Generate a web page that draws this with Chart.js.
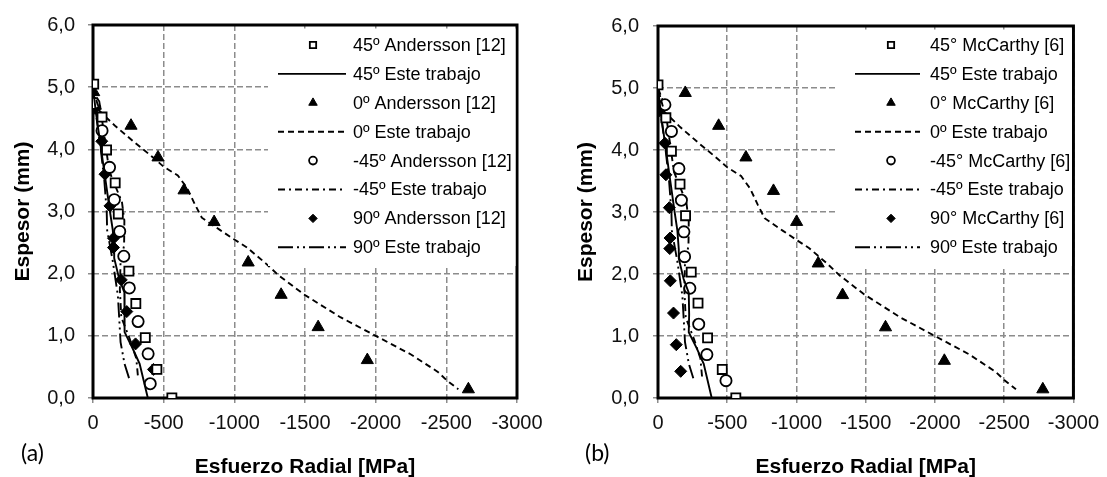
<!DOCTYPE html>
<html><head><meta charset="utf-8">
<script src="https://cdn.jsdelivr.net/npm/chart.js@4.4.0/dist/chart.umd.min.js"></script>
<style>
html,body{margin:0;padding:0;background:#fff;}
#wrap{position:relative;width:1107px;height:477px;overflow:hidden;background:#fff;}
.pane{position:absolute;top:0;height:477px;}
#pa{left:0;width:553px;} #pb{left:553px;width:554px;}
.lab{position:absolute;font-family:Lato,'Open Sans',sans-serif;font-size:23px;line-height:23px;color:#000;}
</style></head><body>
<div id="wrap">
<div class="pane" id="pa"><canvas id="ca"></canvas></div>
<div class="pane" id="pb"><canvas id="cb"></canvas></div>
<div class="lab" style="left:21px;top:441px">(a)</div>
<div class="lab" style="left:585px;top:441px">(b)</div>
</div>
<script>
// ---- axis ticks ----
const xTicks = [0, -500, -1000, -1500, -2000, -2500, -3000];
const yTicks = [0, 1, 2, 3, 4, 5, 6];

// ---- panel (a): Andersson [12] ----
const sqA_x  = [-5, -64, -96, -157, -179, -254, -303, -370, -452, -558];
const sqA_y  = [5.05, 4.52, 3.99, 3.46, 2.96, 2.04, 1.52, 0.97, 0.46, 0.0];
const triA_x = [-5, -269, -460, -644, -857, -1098, -1331, -1593, -1941, -2656];
const triA_y = [4.92, 4.38, 3.87, 3.34, 2.83, 2.18, 1.66, 1.14, 0.61, 0.14];
const cirA_x = [-7, -64, -117, -151, -189, -218, -257, -319, -390, -405];
const cirA_y = [4.74, 4.30, 3.71, 3.19, 2.68, 2.28, 1.77, 1.23, 0.71, 0.23];
const diaA_x = [-14, -62, -85, -120, -145, -145, -200, -239, -301, -428];
const diaA_y = [4.66, 4.13, 3.60, 3.09, 2.57, 2.42, 1.90, 1.39, 0.87, 0.46];

// ---- panel (b): McCarthy [6] ----
const sqB_x  = [0, -57, -97, -159, -199, -240, -289, -358, -464, -562];
const sqB_y  = [5.05, 4.52, 3.98, 3.45, 2.94, 2.03, 1.53, 0.97, 0.46, 0.0];
const triB_x = [-197, -438, -635, -834, -1001, -1157, -1333, -1643, -2068, -2779];
const triB_y = [4.92, 4.39, 3.88, 3.34, 2.84, 2.17, 1.66, 1.14, 0.60, 0.14];
const cirB_x = [-50, -97, -151, -169, -187, -192, -230, -294, -353, -491];
const cirB_y = [4.73, 4.30, 3.70, 3.19, 2.68, 2.28, 1.77, 1.19, 0.70, 0.28];
const diaB_x = [-2, -50, -57, -82, -87, -85, -89, -112, -132, -164];
const diaB_y = [4.62, 4.11, 3.60, 3.07, 2.58, 2.41, 1.89, 1.37, 0.86, 0.43];

// ---- "Este trabajo" curves (same in both panels) ----
const et45_x  = [0, -20, -45, -70, -95, -120, -140, -150, -150, -185, -222, -225, -222, -280, -330, -388];
const et45_y  = [5.0, 4.6, 4.2, 3.8, 3.4, 3.0, 2.7, 2.4, 2.25, 1.92, 1.70, 1.35, 1.06, 0.80, 0.55, 0.0];
const et0_x   = [-5, -45, -160, -300, -430, -500, -600, -665, -720, -770, -900, -1000, -1090, -1220, -1310, -1490, -1750, -2000, -2250, -2440, -2500, -2585];
const et0_y   = [4.95, 4.62, 4.37, 4.10, 3.86, 3.72, 3.58, 3.38, 3.12, 2.90, 2.70, 2.55, 2.42, 2.17, 1.98, 1.67, 1.30, 1.00, 0.70, 0.42, 0.29, 0.14];
const etm45_x = [0, -50, -115, -205, -222, -220, -195, -190, -200, -260, -306, -320];
const etm45_y = [5.0, 4.7, 3.65, 3.15, 2.85, 2.45, 2.2, 1.75, 1.3, 0.95, 0.64, 0.30];
const et90_x  = [0, -25, -55, -80, -97, -100, -140, -176, -185, -195, -223, -255];
const et90_y  = [5.0, 4.5, 4.0, 3.5, 3.0, 2.7, 2.2, 1.65, 1.3, 0.9, 0.55, 0.32];

const labelsA = ['45º Andersson [12]', '45º Este trabajo', '0º Andersson [12]', '0º Este trabajo',
                 '-45º Andersson [12]', '-45º Este trabajo', '90º Andersson [12]', '90º Este trabajo'];
const labelsB = ['45° McCarthy [6]', '45º Este trabajo', '0° McCarthy [6]', '0º Este trabajo',
                 '-45° McCarthy [6]', '-45º Este trabajo', '90° McCarthy [6]', '90º Este trabajo'];

const FONT = "'Liberation Sans', Arial, sans-serif";
const pts = (xs, ys) => xs.map((x, i) => ({x: x, y: ys[i]}));

function makeDatasets(labels, sx, sy, tx, ty, cx, cy, dx, dy) {
  const mark = (label, d, style, r, fill, bw) => ({
    label, data: d, showLine: false, pointStyle: style, pointRadius: r, pointHoverRadius: r,
    backgroundColor: fill, borderColor: '#000', pointBorderWidth: bw, borderWidth: bw
  });
  const line = (label, d, dash) => ({
    label, data: d, showLine: true, pointRadius: 0, pointHoverRadius: 0,
    borderColor: '#000', backgroundColor: '#000', borderWidth: 1.9, borderDash: dash, tension: 0
  });
  return [
    mark(labels[0], pts(sx, sy), 'rect', 6.4, '#fff', 1.8),
    line(labels[1], pts(et45_x, et45_y), []),
    mark(labels[2], pts(tx, ty), 'triangle', 7, '#000', 1),
    line(labels[3], pts(et0_x, et0_y), [6, 4]),
    mark(labels[4], pts(cx, cy), 'circle', 5.6, '#fff', 1.8),
    line(labels[5], pts(etm45_x, etm45_y), [7, 4, 2, 4]),
    mark(labels[6], pts(dx, dy), 'rectRot', 6, '#000', 1),
    line(labels[7], pts(et90_x, et90_y), [15, 4, 2, 4, 2, 4])
  ];
}

const frame = {
  id: 'frame',
  beforeDatasetsDraw(chart) {
    const {ctx, chartArea: a} = chart;
    ctx.save();
    ctx.strokeStyle = '#000';
    ctx.lineWidth = 3;
    ctx.strokeRect(a.left, a.top, a.right - a.left, a.bottom - a.top);
    ctx.restore();
  }
};

const insideLegend = {
  id: 'insideLegend',
  afterDatasetsDraw(chart, args, o) {
    const {ctx, chartArea: a} = chart;
    ctx.save();
    ctx.fillStyle = '#fff';
    ctx.fillRect(o.boxLeft, a.top + 3.5, a.right - 1.5 - o.boxLeft, o.boxBottom - a.top - 3.5);
    chart.data.datasets.forEach((ds, i) => {
      const y = o.y0 + i * o.dy;
      if (ds.showLine) {
        ctx.strokeStyle = ds.borderColor;
        ctx.lineWidth = ds.borderWidth;
        ctx.setLineDash(ds.borderDash || []);
        ctx.beginPath(); ctx.moveTo(o.lx0, y); ctx.lineTo(o.lx1, y); ctx.stroke();
        ctx.setLineDash([]);
      } else {
        ctx.fillStyle = ds.backgroundColor;
        ctx.strokeStyle = ds.borderColor;
        ctx.lineWidth = ds.pointBorderWidth;
        Chart.helpers.drawPoint(ctx, {pointStyle: ds.pointStyle, radius: ds.pointRadius * 0.7,
          borderWidth: ds.pointBorderWidth, rotation: 0}, o.mx, y);
      }
      ctx.fillStyle = '#000';
      ctx.font = '18px ' + FONT;
      ctx.textAlign = 'left';
      ctx.textBaseline = 'middle';
      ctx.fillText(ds.label, o.tx, y + 1);
    });
    ctx.restore();
  }
};

function makeChart(id, datasets, p) {
  return new Chart(document.getElementById(id), {
    type: 'scatter',
    data: {datasets},
    plugins: [frame, insideLegend],
    options: {
      responsive: true, maintainAspectRatio: false, animation: false,
      layout: {padding: {top: 23, right: p.padRight, left: 0, bottom: 0}},
      events: [],
      plugins: {
        legend: {display: false}, tooltip: {enabled: false},
        insideLegend: p.legend
      },
      scales: {
        x: {
          type: 'linear', min: xTicks[xTicks.length - 1], max: xTicks[0], reverse: true,
          afterBuildTicks: s => { s.ticks = xTicks.map(v => ({value: v})); },
          afterFit: s => { s.height = 79; },
          ticks: {callback: v => String(v), color: '#111', padding: 8, maxRotation: 0, autoSkip: false,
                  font: {family: FONT, size: 20}},
          grid: {color: '#8c8c8c', lineWidth: 1.5, tickLength: 5, tickColor: '#8c8c8c', tickWidth: 1.5},
          border: {display: false, dash: [6, 3]},
          title: {display: true, text: 'Esfuerzo Radial [MPa]', color: '#000',
                  font: {family: FONT, size: 21, weight: 'bold', lineHeight: 0.9}, padding: {top: 0, bottom: 0}}
        },
        y: {
          type: 'linear', min: 0, max: 6,
          afterBuildTicks: s => { s.ticks = yTicks.map(v => ({value: v})); },
          afterFit: s => { s.width = p.yWidth; },
          ticks: {callback: v => v.toFixed(1).replace('.', ','), color: '#111', padding: p.yTickPad,
                  font: {family: FONT, size: 20}},
          grid: {color: '#8c8c8c', lineWidth: 1.5, tickLength: 5, tickColor: '#8c8c8c', tickWidth: 1.5},
          border: {display: false, dash: [6, 3]},
          title: {display: true, text: 'Espesor (mm)', color: '#000',
                  font: {family: FONT, size: 21, weight: 'bold', lineHeight: 1}, padding: {top: p.yTitlePad, bottom: 0}}
        }
      }
    }
  });
}

makeChart('ca', makeDatasets(labelsA, sqA_x, sqA_y, triA_x, triA_y, cirA_x, cirA_y, diaA_x, diaA_y), {
  padRight: 36, yWidth: 93, yTickPad: 13, yTitlePad: 12.5,
  legend: {boxLeft: 268, boxBottom: 266, y0: 45, dy: 28.9, lx0: 278, lx1: 346, mx: 313, tx: 353}
});
makeChart('cb', makeDatasets(labelsB, sqB_x, sqB_y, triB_x, triB_y, cirB_x, cirB_y, diaB_x, diaB_y), {
  padRight: 27, yWidth: 105, yTickPad: 14, yTitlePad: 22.5,
  legend: {boxLeft: 284, boxBottom: 266, y0: 45, dy: 28.9, lx0: 302, lx1: 367, mx: 338, tx: 377}
});
</script>
</body></html>
